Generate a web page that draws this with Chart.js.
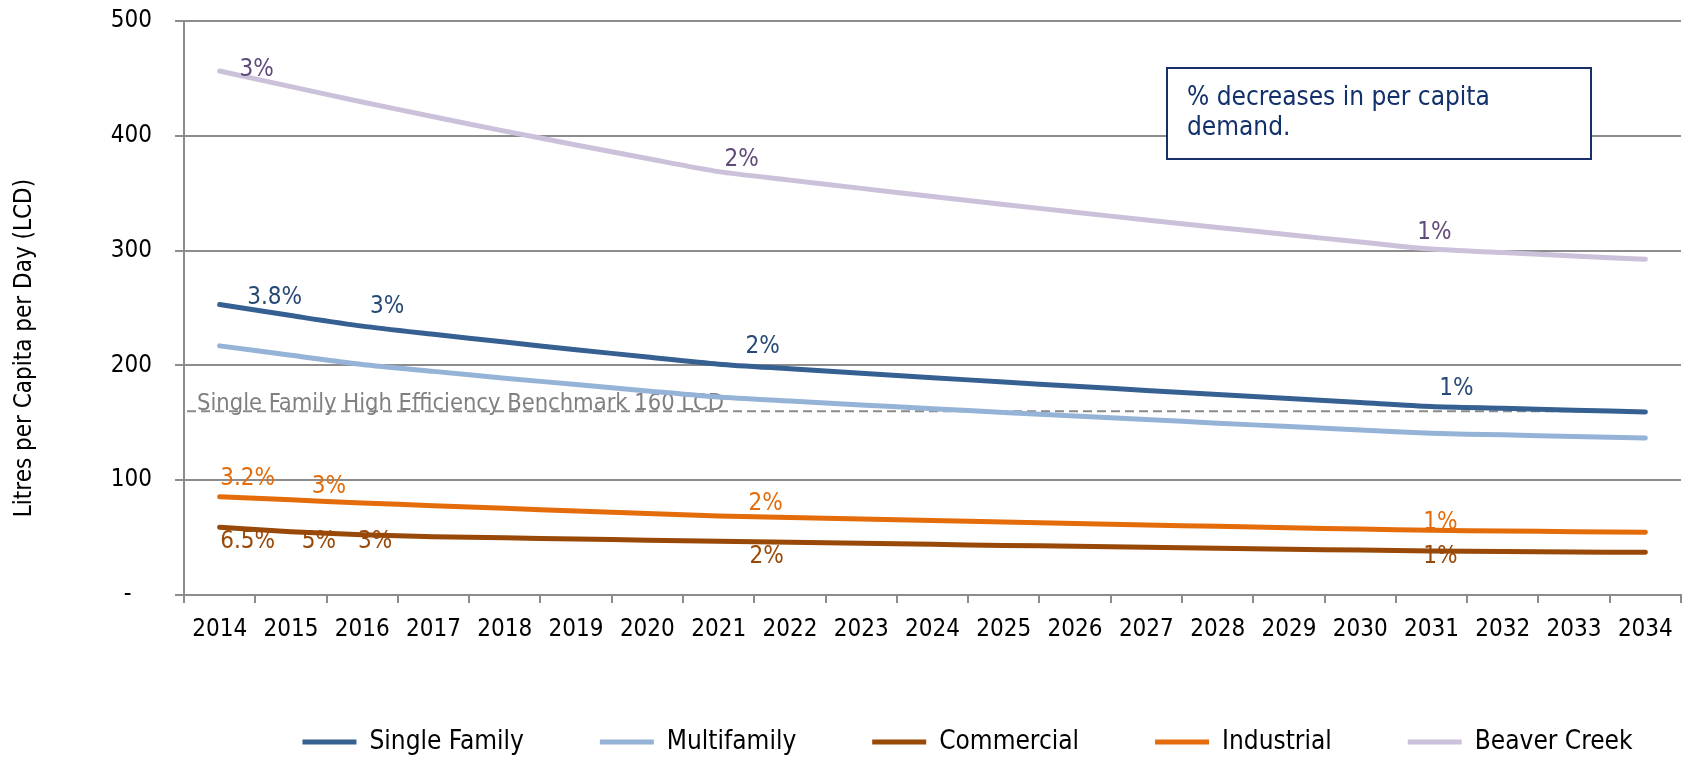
<!DOCTYPE html>
<html>
<head>
<meta charset="utf-8">
<script src="https://cdn.jsdelivr.net/npm/chart.js@4/dist/chart.umd.min.js"></script>
<style>
  html, body { margin: 0; padding: 0; background: #ffffff; }
  #c { display: block; }
</style>
</head>
<body>
<canvas id="c" width="1690" height="757"></canvas>
<script>
// ---- data ----
const years = ['2014','2015','2016','2017','2018','2019','2020','2021','2022','2023','2024',
               '2025','2026','2027','2028','2029','2030','2031','2032','2033','2034'];

const singleFamily = [253.0, 243.4, 234.2, 227.1, 220.3, 213.7, 207.3, 201.1, 197.1, 193.2, 189.3,
                      185.5, 181.8, 178.2, 174.6, 171.1, 167.7, 164.3, 162.7, 161.0, 159.4];
const multifamily  = [217.0, 208.8, 200.8, 194.8, 188.9, 183.3, 177.8, 172.4, 169.0, 165.6, 162.3,
                      159.0, 155.9, 152.8, 149.7, 146.7, 143.8, 140.9, 139.5, 138.1, 136.7];
const commercial   = [59.0, 55.2, 52.4, 50.8, 49.8, 48.8, 47.8, 46.9, 45.9, 45.0, 44.1,
                      43.2, 42.4, 41.5, 40.7, 39.9, 39.1, 38.3, 37.9, 37.5, 37.2];
const industrial   = [85.6, 82.9, 80.2, 77.8, 75.5, 73.2, 71.0, 68.9, 67.5, 66.1, 64.8,
                      63.5, 62.3, 61.0, 59.8, 58.6, 57.4, 56.3, 55.7, 55.2, 54.6];
const beaverCreek  = [456.5, 442.8, 429.5, 416.6, 404.1, 392.0, 380.2, 368.8, 361.4, 354.2, 347.1,
                      340.2, 333.4, 326.7, 320.2, 313.8, 307.5, 301.3, 298.3, 295.3, 292.4];

const yTicks = [0, 100, 200, 300, 400, 500];

// annual % decrease notes: [year, text]
const singleFamilyRates = [['2014','3.8%'], ['2016','3%'], ['2021','2%'], ['2031','1%']];
const commercialRates   = [['2014','6.5%'], ['2015','5%'], ['2016','3%'], ['2021','2%'], ['2031','1%']];
const industrialRates   = [['2014','3.2%'], ['2015','3%'], ['2021','2%'], ['2031','1%']];
const beaverCreekRates  = [['2014','3%'], ['2021','2%'], ['2031','1%']];

const benchmarkValue = 160;
const benchmarkText = 'Single Family High Efficiency Benchmark 160 LCD';
const yAxisTitle = 'Litres per Capita per Day (LCD)';
const noteLines = ['% decreases in per capita', 'demand.'];

// ---- styling / layout ----
const FONT = "'DejaVu Sans Condensed', 'DejaVu Sans', sans-serif";
const GRID = '#8c8c8c';

// pixel nudges of each % note from its point, same order as the rate lists
const rateOffsets = {
  sf:  [[55, -7], [25, -19], [44, -17], [25, -18]],
  com: [[28, 14], [28, 10], [13, 7], [48, 16], [9, 6]],
  ind: [[28, -18], [38, -13], [47, -12], [9, -8]],
  bc:  [[37, -1], [23, -12], [3, -16]]
};

const rateGroups = [
  { ds: 0, list: singleFamilyRates, off: rateOffsets.sf,  color: '#274a74' },
  { ds: 2, list: commercialRates,   off: rateOffsets.com, color: '#984807' },
  { ds: 3, list: industrialRates,   off: rateOffsets.ind, color: '#e46c0a' },
  { ds: 4, list: beaverCreekRates,  off: rateOffsets.bc,  color: '#604a7b' }
];

const NOTE_BOX = { left: 1167, top: 68, width: 424, height: 91 };
const LEGEND_NUDGE = { x: 127, y: 8 };

function series(label, data, color) {
  return {
    label, data,
    borderColor: color, backgroundColor: color,
    borderWidth: 5, pointRadius: 0, pointHoverRadius: 0,
    tension: 0.25, fill: false,
    borderCapStyle: 'round', borderJoinStyle: 'round'
  };
}

const decor = {
  id: 'decor',
  afterLayout(chart) {
    const lg = chart.legend;
    if (!lg) return;
    lg.left += LEGEND_NUDGE.x; lg.right += LEGEND_NUDGE.x;
    lg.top += LEGEND_NUDGE.y; lg.bottom += LEGEND_NUDGE.y;
  },
  beforeDraw(chart) {
    const { ctx, chartArea } = chart;
    ctx.save();
    ctx.fillStyle = '#000';
    ctx.font = `24px ${FONT}`;
    ctx.textAlign = 'center';
    ctx.textBaseline = 'alphabetic';
    ctx.translate(31, (chartArea.top + chartArea.bottom) / 2 + 40);
    ctx.rotate(-Math.PI / 2);
    ctx.fillText(yAxisTitle, 0, 0);
    ctx.restore();
  },
  beforeDatasetsDraw(chart) {
    const { ctx, chartArea, scales: { x, y } } = chart;
    ctx.save();
    // benchmark line and its caption
    const by = y.getPixelForValue(benchmarkValue);
    ctx.strokeStyle = '#8a8a8a';
    ctx.lineWidth = 2;
    ctx.setLineDash([9, 5]);
    ctx.beginPath();
    ctx.moveTo(chartArea.left + 3, by);
    ctx.lineTo(x.getPixelForValue(years.length - 1) - 8, by);
    ctx.stroke();
    ctx.setLineDash([]);
    ctx.font = `23.5px ${FONT}`;
    ctx.fillStyle = '#808080';
    ctx.textAlign = 'left';
    ctx.textBaseline = 'alphabetic';
    ctx.fillText(benchmarkText, chartArea.left + 13, by - 1);

    // note box
    const b = NOTE_BOX;
    ctx.fillStyle = '#ffffff';
    ctx.fillRect(b.left, b.top, b.width, b.height);
    ctx.strokeStyle = '#17306a';
    ctx.lineWidth = 2;
    ctx.strokeRect(b.left, b.top, b.width, b.height);
    ctx.fillStyle = '#12306b';
    ctx.font = `26px ${FONT}`;
    noteLines.forEach((t, i) => ctx.fillText(t, b.left + 20, b.top + 37 + i * 30));
    ctx.restore();
  },
  afterDatasetsDraw(chart) {
    const { ctx, scales: { x, y } } = chart;
    ctx.save();
    ctx.font = `24px ${FONT}`;
    ctx.textAlign = 'center';
    ctx.textBaseline = 'middle';
    rateGroups.forEach(g => {
      const data = chart.data.datasets[g.ds].data;
      ctx.fillStyle = g.color;
      g.list.forEach(([yr, txt], i) => {
        const idx = years.indexOf(yr);
        const px = x.getPixelForValue(idx) + g.off[i][0];
        const py = y.getPixelForValue(data[idx]) + g.off[i][1];
        ctx.fillText(txt, px, py);
      });
    });
    ctx.restore();
  }
};

new Chart(document.getElementById('c'), {
  type: 'line',
  data: {
    labels: years,
    datasets: [
      series('Single Family', singleFamily, '#376092'),
      series('Multifamily', multifamily, '#95b3d7'),
      series('Commercial', commercial, '#984807'),
      series('Industrial', industrial, '#e46c0a'),
      series('Beaver Creek', beaverCreek, '#ccc1da')
    ]
  },
  options: {
    responsive: false,
    animation: false,
    devicePixelRatio: 1,
    layout: { padding: { left: 0, right: 9, top: 21, bottom: 0 } },
    scales: {
      x: {
        type: 'category',
        offset: true,
        grid: { offset: true, drawOnChartArea: false, drawTicks: true, tickLength: 8, color: GRID, lineWidth: 2 },
        border: { display: true, color: GRID, width: 2 },
        ticks: { autoSkip: false, maxRotation: 0, minRotation: 0, padding: 12, color: '#000',
                 font: { family: FONT, size: 24 } },
        afterFit(s) { s.height = 50; }
      },
      y: {
        min: 0, max: 500,
        afterBuildTicks(s) { s.ticks = yTicks.map(v => ({ value: v })); },
        ticks: { padding: 23, color: '#000', font: { family: FONT, size: 24 },
                 callback: v => (v === 0 ? '-   ' : v) },
        grid: { color: GRID, lineWidth: 2, tickLength: 9 },
        border: { display: true, color: GRID, width: 2 },
        afterFit(s) { s.width = 184; s.paddingTop = 0; s.paddingBottom = 0; }
      }
    },
    plugins: {
      legend: {
        position: 'bottom',
        labels: { usePointStyle: true, pointStyle: 'line', pointStyleWidth: 54, padding: 76,
                  color: '#000', font: { family: FONT, size: 26 } }
      },
      tooltip: { enabled: false }
    }
  },
  plugins: [decor]
});
</script>
</body>
</html>
